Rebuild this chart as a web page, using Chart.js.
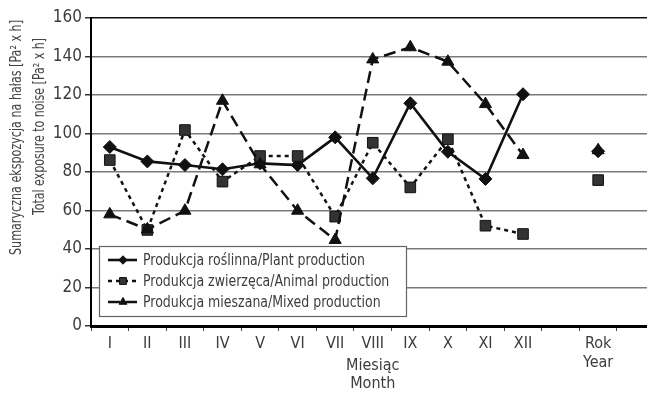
<!DOCTYPE html>
<html>
<head>
<meta charset="utf-8">
<script src="https://cdn.jsdelivr.net/npm/chart.js@4/dist/chart.umd.min.js"></script>
<style>
  html, body { margin: 0; padding: 0; background: #fff; overflow: hidden; }
  #wrap { width: 647px; height: 394px; overflow: hidden; position: relative; }
  canvas { display: block; }
</style>
</head>
<body>
<div id="wrap"><canvas id="c" width="663" height="394"></canvas></div>
<script>
// ---- data ----
const categories = ['I','II','III','IV','V','VI','VII','VIII','IX','X','XI','XII','',['Rok','Year'],''];
const plantValues  = [93, 85.5, 83.6, 81.4, 84.5, 83.6, 98, 76.7, 115.7, 90.5, 76.4, 120.4, null, 90.8, null];
const animalValues = [86.2, 49.9, 101.8, 75, 88.3, 88.3, 56.8, 95.2, 72, 97, 52.1, 47.8, null, 75.8, null];
const mixedValues  = [58, 50.2, 59.9, 117, 84, 59.9, 44.7, 138.5, 144.8, 137.3, 115.3, 88.8, null, 91.3, null];
const seriesLabels = ['Produkcja roślinna/Plant production','Produkcja zwierzęca/Animal production','Produkcja mieszana/Mixed production'];
const yTitleLines = ['Sumaryczna ekspozycja na hałas [Pa² x h]','Total exposure to noise [Pa² x h]'];
const xTitleLines = ['Miesiąc','Month'];

const FONT = "'Liberation Sans Narrow','Arial Narrow','DejaVu Sans Condensed','DejaVu Sans',sans-serif";
const TXT = '#3c3c3c';

function fitText(ctx, text, x, y, targetW, align) {
  const w = ctx.measureText(text).width;
  const k = targetW / w;
  ctx.save();
  ctx.translate(x, y);
  ctx.scale(k, 1);
  ctx.textAlign = align;
  ctx.fillText(text, 0, 0);
  ctx.restore();
}

const yTitlePlugin = {
  id: 'yTitle',
  afterDraw(chart) {
    const ctx = chart.ctx;
    ctx.save();
    ctx.fillStyle = '#444';
    ctx.font = '16px ' + FONT;
    ctx.textBaseline = 'middle';
    const xs = [17, 40], ys = [137.5, 126.5], ws = [235, 177];
    yTitleLines.forEach((t, i) => {
      ctx.save();
      ctx.translate(xs[i], ys[i]);
      ctx.rotate(-Math.PI / 2);
      fitText(ctx, t, 0, 0, ws[i], 'center');
      ctx.restore();
    });
    ctx.restore();
  }
};

const legendPlugin = {
  id: 'boxLegend',
  afterDatasetsDraw(chart) {
    const ctx = chart.ctx;
    const bx = 99, by = 246, bw = 307, bh = 70;
    ctx.save();
    ctx.fillStyle = '#fff';
    ctx.fillRect(bx, by, bw, bh);
    ctx.strokeStyle = '#666';
    ctx.lineWidth = 1.2;
    ctx.strokeRect(bx + 0.5, by + 0.5, bw, bh);
    const rows = [260, 281, 302];
    ctx.font = '16px ' + FONT;
    const k = 222 / ctx.measureText(chart.data.datasets[0].label).width;
    chart.data.datasets.forEach((ds, i) => {
      const y = rows[i];
      ctx.save();
      ctx.strokeStyle = ds.borderColor;
      ctx.lineWidth = ds.borderWidth;
      ctx.setLineDash(ds.borderDash || []);
      ctx.beginPath();
      ctx.moveTo(108, y);
      ctx.lineTo(137, y);
      ctx.stroke();
      ctx.setLineDash([]);
      ctx.fillStyle = ds.pointBackgroundColor;
      ctx.strokeStyle = ds.pointBorderColor;
      ctx.lineWidth = 1;
      Chart.helpers.drawPoint(ctx, {pointStyle: ds.pointStyle, rotation: 0, radius: ds.pointRadius * 0.65, borderWidth: 1}, 123, y);
      ctx.restore();
      ctx.save();
      ctx.fillStyle = TXT;
      ctx.textBaseline = 'middle';
      ctx.translate(143, y + 1);
      ctx.scale(k, 1);
      ctx.textAlign = 'left';
      ctx.fillText(ds.label, 0, 0);
      ctx.restore();
    });
    ctx.restore();
  }
};

new Chart(document.getElementById('c'), {
  type: 'line',
  data: {
    labels: categories,
    datasets: [
      {
        label: seriesLabels[0], data: plantValues,
        borderColor: '#111', borderWidth: 2.6, tension: 0,
        pointStyle: 'rectRot', pointRadius: 6.5,
        pointBackgroundColor: '#111', pointBorderColor: '#111', pointBorderWidth: 1,
        order: 3
      },
      {
        label: seriesLabels[1], data: animalValues,
        borderColor: '#111', borderWidth: 2.5, borderDash: [4, 4], tension: 0,
        pointStyle: 'rect', pointRadius: 7.5,
        pointBackgroundColor: '#333', pointBorderColor: '#111', pointBorderWidth: 1,
        order: 2
      },
      {
        label: seriesLabels[2], data: mixedValues,
        borderColor: '#111', borderWidth: 2.5, borderDash: [12, 6], tension: 0,
        pointStyle: 'triangle', pointRadius: 7,
        pointBackgroundColor: '#111', pointBorderColor: '#111', pointBorderWidth: 1,
        order: 1
      }
    ]
  },
  options: {
    responsive: false,
    animation: false,
    layout: { padding: { top: 18, right: 3, left: 0, bottom: 0 } },
    plugins: { legend: { display: false }, tooltip: { enabled: false }, title: { display: false } },
    scales: {
      x: {
        offset: true,
        grid: { display: true, offset: true, drawOnChartArea: false, tickLength: 5, tickColor: '#444', lineWidth: 1 },
        border: { display: true, color: '#000', width: 3 },
        ticks: { color: TXT, font: { family: FONT, size: 16, lineHeight: 1.15 }, padding: 4, maxRotation: 0, autoSkip: false },
        title: { display: true, text: xTitleLines, color: TXT, font: { family: FONT, size: 16, lineHeight: 1.15 }, padding: { top: 0, bottom: 1 } },
        afterFit(s) { s.height = 68; }
      },
      y: {
        min: 0, max: 160,
        ticks: { stepSize: 20, color: TXT, font: { family: FONT, size: 17 }, padding: 3 },
        grid: {
          tickLength: 6,
          tickColor: '#333',
          color: (c) => (c.tick && c.tick.value === 160 ? '#111' : '#7a7a7a'),
          lineWidth: 1.5
        },
        border: { display: true, color: '#000', width: 2 },
        afterFit(s) { s.width = 91; }
      }
    }
  },
  plugins: [legendPlugin, yTitlePlugin]
});
</script>
</body>
</html>
